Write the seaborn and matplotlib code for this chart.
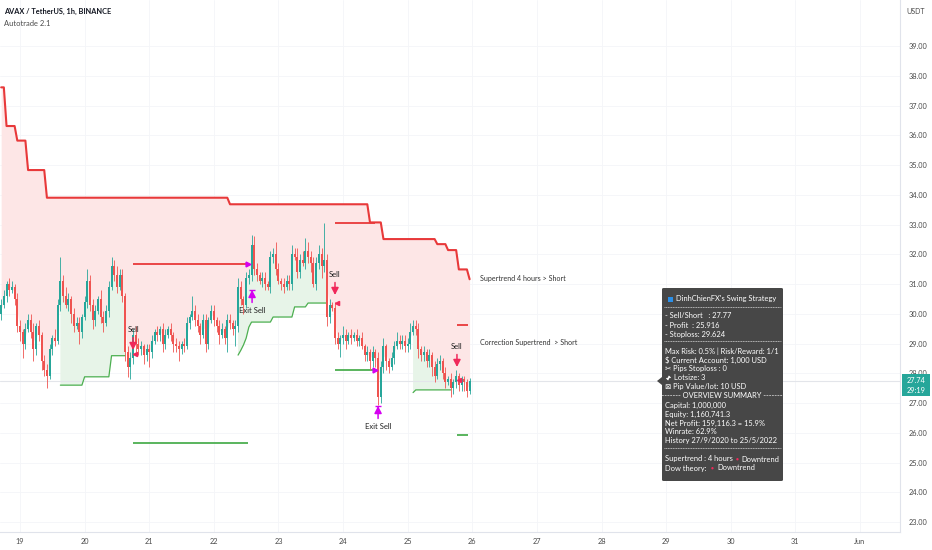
import numpy as np
import pandas as pd
import matplotlib
matplotlib.use("Agg")
import matplotlib.pyplot as plt
import seaborn as sns
from matplotlib.patches import FancyBboxPatch, Rectangle, Polygon, FancyArrowPatch
from matplotlib.lines import Line2D

# ---------------- data (hourly candles, hour 0 = 19 May 00:00) ----------------
first_hour = -7
first_open = 30.0
closes = [
    30.3, 30.6, 31.0, 30.8, 30.9, 30.5, 29.6, 29.4, 29.0, 29.5,
    29.8, 29.4, 28.8, 29.6, 29.3, 28.4, 28.1, 27.9, 28.8, 29.2,
    29.1, 30.3, 31.1, 30.6, 30.3, 30.5, 30.0, 29.6, 29.7, 29.4,
    29.9, 30.4, 31.1, 30.3, 29.8, 30.1, 30.5, 29.9, 29.7, 30.1,
    30.9, 31.6, 31.3, 30.9, 31.3, 30.6, 28.7, 28.2, 28.5, 29.3,
    29.0, 28.8, 28.9, 28.6, 28.8, 28.7, 29.1, 29.4, 29.3, 29.5,
    29.0, 29.3, 29.5, 29.3, 29.0, 28.9, 28.8, 29.0, 28.9, 29.7,
    29.9, 30.1, 29.8, 29.6, 29.3, 29.8, 29.0, 29.8, 30.1, 29.8,
    29.6, 29.3, 29.5, 29.2, 29.8, 29.7, 29.5, 29.6, 30.9, 30.5,
    30.3, 31.2, 31.3, 32.3, 31.5, 31.3, 31.1, 31.2, 31.0, 30.9,
    31.9, 32.0, 31.5, 31.1, 31.0, 30.9, 31.1, 31.0, 32.0, 31.9,
    31.4, 31.8, 31.7, 32.1, 31.9, 31.7, 31.0, 31.7, 32.0, 31.6,
    31.8, 29.9, 30.3, 30.2, 29.2, 29.0, 29.2, 29.3, 29.1, 29.3,
    29.2, 29.3, 29.1, 29.2, 28.9, 28.6, 28.7, 28.4, 28.7, 28.5,
    27.2, 28.2, 28.9, 28.4, 28.2, 28.5, 28.9, 29.1, 29.0, 29.1,
    28.9, 29.0, 29.4, 29.6, 29.5, 28.8, 28.6, 28.7, 28.4, 28.6,
    28.2, 27.9, 28.3, 28.4, 28.0, 27.7, 27.8, 27.5, 27.7, 27.9,
    27.6, 27.8, 27.7, 27.4, 27.74,
]
wick_up = [
    0.2, 0.2, 0.1, 0.2, 0.2, 0.1, 0.2, 0.2, 0.1, 0.2,
    0.2, 0.2, 0.3, 0.1, 0.2, 0.1, 0.2, 0.2, 0.2, 0.1,
    0.3, 0.2, 0.8, 0.2, 0.3, 0.2, 0.1, 0.2, 0.2, 0.2,
    0.1, 0.2, 0.4, 0.2, 0.2, 0.2, 0.1, 0.3, 0.2, 0.2,
    0.2, 0.3, 0.2, 0.3, 0.2, 0.2, 0.1, 0.2, 0.2, 0.2,
    0.3, 0.2, 0.2, 0.1, 0.2, 0.2, 0.2, 0.1, 0.2, 0.1,
    0.2, 0.2, 0.1, 0.2, 0.1, 0.2, 0.2, 0.1, 0.2, 0.2,
    0.1, 0.5, 0.2, 0.2, 0.1, 0.2, 0.2, 0.1, 0.2, 0.2,
    0.1, 0.2, 0.2, 0.1, 0.2, 0.2, 0.1, 0.2, 0.3, 0.2,
    0.1, 0.2, 0.2, 0.35, 0.3, 0.2, 0.1, 0.2, 0.2, 0.1,
    0.2, 0.2, 0.4, 0.2, 0.1, 0.2, 0.2, 0.2, 0.3, 0.2,
    0.3, 0.2, 0.3, 0.45, 0.3, 0.2, 0.2, 0.2, 0.3, 0.2,
    1.25, 0.2, 0.2, 0.1, 0.2, 0.2, 0.1, 0.3, 0.2, 0.1,
    0.2, 0.1, 0.2, 0.1, 0.2, 0.1, 0.2, 0.1, 0.2, 0.1,
    0.2, 0.2, 0.3, 0.1, 0.1, 0.2, 0.2, 0.3, 0.2, 0.2,
    0.2, 0.2, 0.3, 0.2, 0.2, 0.2, 0.1, 0.2, 0.1, 0.2,
    0.1, 0.2, 0.2, 0.2, 0.1, 0.2, 0.1, 0.2, 0.1, 0.2,
    0.1, 0.1, 0.1, 0.1, 0.1,
]
wick_dn = [
    0.2, 0.1, 0.2, 0.2, 0.1, 0.2, 0.2, 0.3, 0.5, 0.2,
    0.1, 0.2, 0.4, 0.2, 0.2, 0.3, 0.2, 0.4, 0.1, 0.2,
    0.2, 0.1, 0.2, 0.2, 0.1, 0.2, 0.3, 0.2, 0.1, 0.4,
    0.2, 0.1, 0.2, 0.2, 0.3, 0.2, 0.1, 0.2, 0.3, 0.1,
    0.2, 0.1, 0.2, 0.2, 0.1, 0.2, 0.3, 0.33, 0.4, 0.2,
    0.3, 0.2, 0.2, 0.3, 0.2, 0.5, 0.2, 0.1, 0.2, 0.2,
    0.3, 0.2, 0.1, 0.2, 0.3, 0.2, 0.4, 0.15, 0.2, 0.1,
    0.2, 0.1, 0.2, 0.2, 0.3, 0.1, 0.3, 0.2, 0.1, 0.2,
    0.2, 0.3, 0.1, 0.2, 0.5, 0.2, 0.2, 0.6, 0.2, 0.2,
    0.3, 0.1, 0.2, 0.2, 0.2, 0.2, 0.1, 0.2, 0.2, 0.1,
    0.2, 0.2, 0.2, 0.1, 0.2, 0.2, 0.1, 0.2, 0.2, 0.1,
    0.2, 0.2, 0.1, 0.2, 0.2, 0.3, 0.1, 0.2, 0.2, 0.4,
    0.2, 0.3, 0.2, 0.1, 0.2, 0.2, 0.45, 0.2, 0.3, 0.1,
    0.2, 0.1, 0.2, 0.2, 0.1, 0.2, 0.2, 0.3, 0.2, 0.3,
    0.27, 0.2, 0.2, 0.3, 0.2, 0.1, 0.2, 0.1, 0.2, 0.2,
    0.2, 0.2, 0.2, 0.1, 0.2, 0.3, 0.2, 0.2, 0.2, 0.2,
    0.3, 0.2, 0.1, 0.2, 0.2, 0.2, 0.1, 0.3, 0.2, 0.2,
    0.2, 0.2, 0.3, 0.2, 0.1,
]

# 4h supertrend (downtrend) : step start hour -> level
st4h_start = [-7, -5, -1, 3, 10, 78, 130, 135, 155, 159, 163, 167]
st4h_level = [37.61, 36.31, 35.82, 34.83, 33.90, 33.68, 33.07, 32.51, 32.34, 32.14, 31.49, 31.16]
# correction supertrend (uptrend parts only, NaN = not in uptrend)
corr_start = [15, 24, 34, 40, 81, 82, 83, 84, 85, 86, 94, 102, 107, 115, 146, 147, 161]
corr_level = [27.60, 27.88, 28.59, np.nan, 28.61, 28.77, 28.95, 29.18, 29.55, 29.72,
              29.89, 30.23, 30.36, np.nan, 27.35, 27.44, np.nan]

# trades
trade_start = [42.0, 117.0, 162.3]
trade_end = [84.7, 131.9, 166.4]
trade_sl = [31.66, 33.06, 29.624]
trade_tp = [25.64, 28.11, 25.916]
hit_hours = [84.7, 131.9]
hit_prices = [31.66, 28.11]
sell_hours = [42.0, 117.0, 162.3]
sell_entry = [28.65, 30.36, 27.77]
sell_arrow_tip = [28.78, 30.63, 28.21]
exit_hours = [86.2, 133.0]
exit_arrow_tip = [30.8, 26.9]
last_price = 27.74
countdown = "29:19"

day_labels = ["19", "20", "21", "22", "23", "24", "25", "26", "27", "28", "29", "30", "31", "Jun"]
price_ticks = [23, 24, 25, 26, 27, 28, 29, 30, 31, 32, 33, 34, 35, 36, 37, 38, 39]

panel_lines = [
    "- Sell/Short   : 27.77",
    "- Profit  : 25.916",
    "- Stoploss: 29.624",
    None,
    "Max Risk: 0.5% | Risk/Reward: 1/1",
    "$ Current Account: 1,000 USD",
    "\u2702 Pips Stoploss : 0",
    "Lotsize: 3",
    "\u22a0 Pip Value/lot: 10 USD",
    "--------- OVERVIEW SUMMARY ---------",
    "Capital: 1,000,000",
    "Equity: 1,160,741.3",
    "Net Profit: 159,116.3 = 15.9%",
    "Winrate: 62.9%",
    "History 27/9/2020 to 25/5/2022",
    None,
]

# ---------------- derived ----------------
n = len(closes)
hours = first_hour + np.arange(n)
c = np.array(closes)
o = np.concatenate([[first_open], c[:-1]])
hi = np.maximum(o, c) + np.array(wick_up)
lo = np.minimum(o, c) - np.array(wick_dn)
mid = (o + c) / 2


def step_lookup(starts, levels, hrs):
    idx = np.searchsorted(np.array(starts), hrs, side="right") - 1
    vals = np.array(levels, dtype=float)[np.clip(idx, 0, None)]
    vals[idx < 0] = np.nan
    return vals


st4h = step_lookup(st4h_start, st4h_level, hours)
corr = step_lookup(corr_start, corr_level, hours)

RED = "#ef5350"
GREEN = "#26a69a"
ST_RED = "#e8393a"
ST_GREEN = "#4caf50"
MAGENTA = "#d500f0"
PINK_FILL = "#fde6e6"
GREEN_FILL = "#e7f4e8"

sns.set_theme(style="white")
plt.rcParams["font.family"] = ["Lato", "DejaVu Sans"]

W, H = 932, 550
fig = plt.figure(figsize=(W / 100, H / 100), dpi=100)
fig.patch.set_facecolor("white")
ax = fig.add_axes([0, 18 / H, 900 / W, 532 / H])
ax.set_facecolor("white")

px_per_h = 2.6923
ax.set_xlim(-20 / px_per_h, 880 / px_per_h)
ax.set_ylim(39 - 486 / 29.75, 39 + 46 / 29.75)

# grid
for k in range(len(day_labels)):
    ax.axvline(24 * k, color="#f4f5f8", lw=0.6, zorder=0)
for p in price_ticks:
    ax.axhline(p, color="#f4f5f8", lw=0.6, zorder=0)

# fills
ax.fill_between(hours, st4h, mid, color=PINK_FILL, lw=0, zorder=1)
ax.fill_between(hours, mid, corr, where=~np.isnan(corr), color=GREEN_FILL, lw=0, zorder=1)

# last price line
ax.axhline(last_price, color="#e3e5ea", lw=0.8, zorder=1.5)

# supertrend lines via seaborn
df_st = pd.DataFrame({"h": hours, "v": st4h})
sns.lineplot(data=df_st, x="h", y="v", ax=ax, color=ST_RED, lw=1.5, estimator=None,
             sort=False, zorder=2, legend=False)
df_corr = pd.DataFrame({"h": hours, "v": corr})
df_corr["seg"] = df_corr["v"].isna().cumsum()
df_corr = df_corr.dropna()
sns.lineplot(data=df_corr, x="h", y="v", units="seg", ax=ax, color=ST_GREEN, lw=0.9,
             estimator=None, sort=False, zorder=2, legend=False)

# trade SL / TP lines
for s, e, sl, tp in zip(trade_start, trade_end, trade_sl, trade_tp):
    ax.plot([s, e], [sl, sl], color=ST_RED, lw=1.3, zorder=2, solid_capstyle="butt")
    ax.plot([s, e], [tp, tp], color=ST_GREEN, lw=1.3, zorder=2, solid_capstyle="butt")
ax.plot(hit_hours, hit_prices, ls="none", marker=">", ms=3.5, color=MAGENTA, zorder=5)

# candles
up = c >= o
colors = np.where(up, GREEN, RED)
ax.vlines(hours, lo, hi, colors=colors, lw=0.6, zorder=3)
body = np.where(np.abs(c - o) < 0.03, 0.03, c - o)
ax.bar(hours, body, bottom=o, width=0.75, color=colors, lw=0, zorder=4)

# sell signals
for h, tip, ent in zip(sell_hours, sell_arrow_tip, sell_entry):
    ax.annotate("", xy=(h, tip), xytext=(0, 9), textcoords="offset points",
                arrowprops=dict(arrowstyle="-|>,head_width=0.18,head_length=0.35",
                                color="#f0285a", lw=1.1, shrinkA=0, shrinkB=0), zorder=6)
    ax.annotate("Sell", xy=(h, tip), xytext=(0, 15), textcoords="offset points",
                ha="center", va="center", fontsize=5.5, color="#222222", zorder=6)
    ax.plot(h + 0.9, ent, marker="<", ms=3, color="#f0285a", zorder=6)

# exit signals
for h, tip in zip(exit_hours, exit_arrow_tip):
    ax.annotate("", xy=(h, tip), xytext=(0, -9), textcoords="offset points",
                arrowprops=dict(arrowstyle="-|>,head_width=0.18,head_length=0.35",
                                color=MAGENTA, lw=1.1, shrinkA=0, shrinkB=0), zorder=6)
    ax.plot(h, tip, marker="_", ms=4.5, mew=1.0, color=MAGENTA, zorder=6)
    ax.annotate("Exit Sell", xy=(h, tip), xytext=(0, -15), textcoords="offset points",
                ha="center", va="center", fontsize=5.5, color="#222222", zorder=6)

# right side labels
ax.text(170.9, 31.17, "Supertrend 4 hours > Short", fontsize=5.1, color="#333333",
        va="center", ha="left")
ax.text(170.9, 29.02, "Correction Supertrend  > Short", fontsize=5.1, color="#333333",
        va="center", ha="left")

# axes styling
ax.yaxis.tick_right()
ax.set_yticks(price_ticks)
ax.set_yticklabels([f"{v:.2f}" for v in price_ticks])
ax.set_xticks([24 * k for k in range(len(day_labels))])
ax.set_xticklabels(day_labels)
ax.tick_params(axis="y", length=0, pad=6, labelsize=5.3, colors="#4a4a4a")
ax.tick_params(axis="x", length=0, pad=4, labelsize=5.3, colors="#4a4a4a")
ax.set_xlabel("")
ax.set_ylabel("")
for s in ["top", "left"]:
    ax.spines[s].set_visible(False)
for s in ["right", "bottom"]:
    ax.spines[s].set_color("#e0e3eb")
    ax.spines[s].set_linewidth(0.8)


def fx(x):
    return x / W


def fy(y):
    return 1 - y / H


# header
fig.text(fx(4), fy(11), "AVAX / TetherUS, 1h, BINANCE", fontsize=5.3, fontweight="bold",
         color="#131722", va="center")
fig.text(fx(4), fy(23), "Autotrade 2.1", fontsize=5.4, color="#4a4a4a", va="center")
fig.text(fx(906), fy(11), "USDT", fontsize=5, color="#4a4a4a", va="center")

# last price tag
fig.patches.append(Rectangle((fx(902), fy(396)), 28 / W, 22 / H, transform=fig.transFigure,
                             facecolor="#26a69a", edgecolor="none", zorder=5))
fig.text(fx(916), fy(380.5), f"{last_price:.2f}", fontsize=5.3, color="white", ha="center",
         va="center", zorder=6)
fig.text(fx(916), fy(390.5), countdown, fontsize=5.3, color="white", ha="center",
         va="center", zorder=6)

# info panel
bx0, by0, bx1, by1 = 662, 288, 783, 481
fig.patches.append(FancyBboxPatch((fx(bx0), fy(by1)), (bx1 - bx0) / W, (by1 - by0) / H,
                                  boxstyle="round,pad=0,rounding_size=0.002",
                                  transform=fig.transFigure, facecolor="#474747",
                                  edgecolor="none", zorder=5))
fig.patches.append(Polygon([(fx(662), fy(377)), (fx(657), fy(381)), (fx(662), fy(385))],
                           closed=True, transform=fig.transFigure, facecolor="#474747",
                           edgecolor="none", zorder=5))


def sep(y):
    fig.lines.append(Line2D([fx(664), fx(781)], [fy(y), fy(y)], transform=fig.transFigure,
                            color="#d0d0d0", lw=0.6, ls=(0, (1.2, 0.8)), zorder=6))


PFS = 5.4
fig.patches.append(Rectangle((fx(668), fy(302)), 5 / W, 5 / H, transform=fig.transFigure,
                             facecolor="#2b8fe8", edgecolor="none", zorder=6))
fig.text(fx(676), fy(299), "DinhChienFX's Swing Strategy", fontsize=PFS, color="white",
         va="center", ha="left", zorder=7)
sep(307)
y = 316
for line in panel_lines:
    if line is None:
        sep(y - 2)
        y += 8
        continue
    if "OVERVIEW" in line:
        fig.text(fx(722.5), fy(y), line, fontsize=PFS, color="white", va="center",
                 ha="center", zorder=7)
    elif line.startswith("Lotsize"):
        # diagonal double-headed arrow icon (glyph not available in installed fonts)
        fig.patches.append(FancyArrowPatch((fx(666), fy(y + 2.5)), (fx(671), fy(y - 2.5)),
                                           transform=fig.transFigure,
                                           arrowstyle="<|-|>,head_width=0.8,head_length=1.2",
                                           color="white", lw=0.6, zorder=7))
        fig.text(fx(674), fy(y), line, fontsize=PFS, color="white", va="center", ha="left",
                 zorder=7)
    else:
        fig.text(fx(665), fy(y), line, fontsize=PFS, color="white", va="center", ha="left",
                 zorder=7)
    y += 9
y += 1
fig.text(fx(665), fy(y), "Supertrend : 4 hours", fontsize=PFS, color="white", va="center",
         zorder=7)
fig.text(fx(737), fy(y), "\u25cf", fontsize=3.5, color="#f0285a", va="center", ha="center",
         zorder=7)
fig.text(fx(741.5), fy(y), "Downtrend", fontsize=PFS, color="white", va="center", zorder=7)
y += 9
fig.text(fx(665), fy(y), "Dow theory:", fontsize=PFS, color="white", va="center", zorder=7)
fig.text(fx(712), fy(y), "\u25cf", fontsize=3.5, color="#f0285a", va="center", ha="center",
         zorder=7)
fig.text(fx(717), fy(y), "Downtrend", fontsize=PFS, color="white", va="center", zorder=7)

fig.savefig("out.png", dpi=100, facecolor="white")
